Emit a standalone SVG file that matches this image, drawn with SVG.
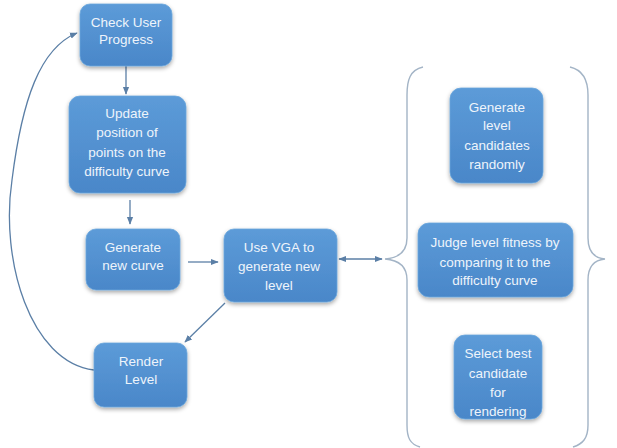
<svg xmlns="http://www.w3.org/2000/svg" width="617" height="448" viewBox="0 0 617 448">
<defs>
<linearGradient id="bg" x1="0" y1="0" x2="0" y2="1">
<stop offset="0" stop-color="#5c9bd8"/>
<stop offset="1" stop-color="#4a87c9"/>
</linearGradient>
<filter id="sh" x="-20%" y="-20%" width="140%" height="150%">
<feDropShadow dx="0" dy="2" stdDeviation="2" flood-color="#000" flood-opacity="0.35"/>
</filter>
<marker id="ah" viewBox="0 0 10 10" refX="9" refY="5" markerWidth="6" markerHeight="6" orient="auto-start-reverse">
<path d="M0,1 L10,5 L0,9 z" fill="#5b7fa6"/>
</marker>
<style>
.box{fill:url(#bg);stroke:#6aa6dc;stroke-width:0.8;filter:url(#sh)}
.t{font-family:"Liberation Sans",Arial,sans-serif;font-size:13.5px;fill:#eef4fb;text-anchor:middle}
.c{fill:none;stroke:#5b7fa6;stroke-width:1.3}
.br{fill:none;stroke:#a3b4c6;stroke-width:1.4}
</style>
</defs>
<rect width="617" height="448" fill="#fff"/>
<g id="connectors">
<line class="c" x1="126" y1="66" x2="126" y2="94" marker-end="url(#ah)"/>
<line class="c" x1="130" y1="200" x2="130" y2="224" marker-end="url(#ah)"/>
<line class="c" x1="188" y1="262" x2="218" y2="262" marker-end="url(#ah)"/>
<line class="c" x1="339" y1="259" x2="382" y2="259" marker-start="url(#ah)" marker-end="url(#ah)"/>
<line class="c" x1="225" y1="303" x2="185" y2="342" marker-end="url(#ah)"/>
<path class="c" d="M94,370 C30,362 0,260 12,180 C22,100 40,48 77,33" marker-end="url(#ah)"/>
<path class="br" d="M423,67 C410,70 407,80 407,95 L407,238 C407,252 398,258 385,259 C398,260 407,266 407,280 L407,425 C407,438 410,444 420,447"/>
<path class="br" d="M570,67 C583,70 588,80 588,95 L588,238 C588,252 594,258 605,259 C594,260 588,266 588,280 L588,425 C588,438 583,444 573,447"/>
</g>
<g id="check">
<rect class="box" x="80" y="4" width="92" height="62" rx="10"/>
<text class="t" x="126" y="27">Check User</text>
<text class="t" x="126" y="44">Progress</text>
</g>
<g id="update">
<rect class="box" x="69" y="96" width="117" height="97" rx="11"/>
<text class="t" x="127" y="118">Update</text>
<text class="t" x="127" y="137">position of</text>
<text class="t" x="127" y="157">points on the</text>
<text class="t" x="127" y="176">difficulty curve</text>
</g>
<g id="gencurve">
<rect class="box" x="86" y="229" width="94" height="61" rx="10"/>
<text class="t" x="133" y="252">Generate</text>
<text class="t" x="133" y="270">new curve</text>
</g>
<g id="vga">
<rect class="box" x="224" y="229" width="113" height="73" rx="10"/>
<text class="t" x="279" y="252">Use VGA to</text>
<text class="t" x="279" y="271">generate new</text>
<text class="t" x="279" y="290">level</text>
</g>
<g id="render">
<rect class="box" x="94" y="343" width="93" height="64" rx="10"/>
<text class="t" x="141" y="366">Render</text>
<text class="t" x="141" y="384">Level</text>
</g>
<g id="gencand">
<rect class="box" x="450" y="88" width="93" height="95" rx="11"/>
<text class="t" x="497" y="112">Generate</text>
<text class="t" x="497" y="130">level</text>
<text class="t" x="497" y="150">candidates</text>
<text class="t" x="497" y="169">randomly</text>
</g>
<g id="judge">
<rect class="box" x="418" y="223" width="155" height="74" rx="11"/>
<text class="t" x="495" y="247">Judge level fitness by</text>
<text class="t" x="495" y="267">comparing it to the</text>
<text class="t" x="495" y="285">difficulty curve</text>
</g>
<g id="select">
<rect class="box" x="454" y="335" width="88" height="84" rx="11"/>
<text class="t" x="498" y="358">Select best</text>
<text class="t" x="498" y="378">candidate</text>
<text class="t" x="498" y="397">for</text>
<text class="t" x="498" y="416">rendering</text>
</g>
</svg>
